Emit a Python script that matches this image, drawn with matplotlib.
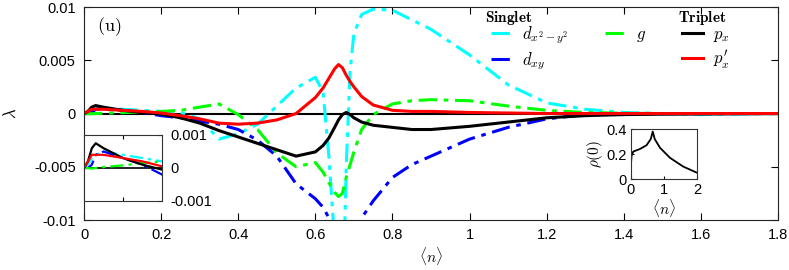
import numpy as np
import matplotlib
matplotlib.use("Agg")
import matplotlib.pyplot as plt
from matplotlib.lines import Line2D

plt.rcParams["font.family"] = ["Liberation Sans", "DejaVu Sans"]
plt.rcParams["mathtext.fontset"] = "cm"

# filling <n>
n = [0, 0.01, 0.02, 0.03, 0.05, 0.1, 0.15, 0.2, 0.25, 0.3, 0.35, 0.4, 0.45, 0.5,
     0.55, 0.6, 0.62, 0.635, 0.65, 0.66, 0.67, 0.68, 0.69, 0.7, 0.72, 0.75, 0.8,
     0.85, 0.9, 1.0, 1.1, 1.2, 1.3, 1.4, 1.5, 1.6, 1.7, 1.8]

d_x2y2 = [0, 0.0001, 0.0003, 0.0004, 0.0005, 0.0004, 0.0003, 0.0002, 0.0001, -0.0005,
          -0.0024, -0.0019, -0.001, 0.0007, 0.0024, 0.0034, 0.002, -0.004, -0.012,
          -0.02, -0.02, -0.005, 0.004, 0.0075, 0.0093, 0.0098, 0.0097, 0.0088, 0.0079,
          0.0055, 0.0027, 0.0010, 0.0004, 0.0001, 0, -0.0001, -0.00005, 0]

d_xy = [0, 0, 0.0001, 0.0004, 0.0005, 0.0003, 0.0001, -0.0002, -0.0004, -0.0007,
        -0.001, -0.0015, -0.0025, -0.004, -0.0066, -0.008, -0.0088, -0.0098, -0.0115,
        -0.013, -0.014, -0.014, -0.0135, -0.0125, -0.0098, -0.0082, -0.006, -0.0048,
        -0.004, -0.0024, -0.0013, -0.0005, -0.0001, 0, 0, 0, 0, 0]

g = [0, 0, -0.00002, 0, 0.00003, 0.00008, 0.00015, 0.0002, 0.0003, 0.0006, 0.0009,
     -0.0001, -0.0015, -0.0037, -0.005, -0.0046, -0.0055, -0.0065, -0.0074, -0.0078,
     -0.0075, -0.006, -0.0048, -0.0036, -0.0015, -0.0001, 0.0009, 0.0012, 0.0013,
     0.0012, 0.0007, 0.0003, 0.0001, 0.00003, 0, 0, 0, 0]

p_x = [0, 0.0002, 0.0006, 0.00075, 0.0006, 0.0003, 0.0001, -0.00005, -0.0004, -0.0009,
       -0.0016, -0.0022, -0.0028, -0.0034, -0.004, -0.0036, -0.003, -0.0023, -0.0013,
       -0.0006, -0.0001, 0.0001, -0.0001, -0.0004, -0.0008, -0.0011, -0.0013, -0.0015,
       -0.0015, -0.0012, -0.0008, -0.0004, -0.0002, -0.0001, -0.00006, -0.00004,
       -0.00002, 0]

p_x2 = [0, 0.0002, 0.0004, 0.0004, 0.0004, 0.0003, 0.0002, 0.00005, -0.0002, -0.0005,
        -0.0009, -0.001, -0.0009, -0.0006, 0, 0.0015, 0.0024, 0.0033, 0.0042, 0.0046,
        0.0043, 0.0036, 0.003, 0.0025, 0.0016, 0.0008, 0.0003, 0.0002, 0.0002, 0.0001,
        0.00005, 0, 0, 0, 0, 0, 0, 0]

# inset: density of states at the Fermi level
n_dos = [0, 0.02, 0.07, 0.27, 0.47, 0.6, 0.66, 0.72, 0.88, 1.18, 1.58, 2.0]
rho0 = [0.12, 0.19, 0.22, 0.24, 0.27, 0.32, 0.38, 0.32, 0.25, 0.17, 0.10, 0.05]

xticks = [0, 0.2, 0.4, 0.6, 0.8, 1, 1.2, 1.4, 1.6, 1.8]
yticks = [-0.01, -0.005, 0, 0.005, 0.01]

dashdot = (0, (6, 2.2, 1.5, 2.2))
styles = [
    (d_x2y2, "#00ffff", dashdot, r"$d_{x^2-y^2}$"),
    (d_xy, "#0000ff", dashdot, r"$d_{xy}$"),
    (g, "#00ff00", dashdot, r"$g$"),
    (p_x, "black", "-", r"$p_x$"),
    (p_x2, "#ff0000", "-", r"$p_x'$"),
]

fig = plt.figure(figsize=(7.89, 2.70), dpi=100)
ax = fig.add_axes([0.1065, 0.185, 0.8796, 0.789])
ax.axhline(0, color="black", lw=1.5)
lines = {}
for ys, c, ls, lab in styles:
    lines[lab], = ax.plot(n, ys, color=c, ls=ls, lw=2.2, label=lab)
ax.set_xlim(0, 1.8)
ax.set_ylim(-0.01, 0.01)
ax.set_xticks(xticks)
ax.set_xticklabels([f"{t:g}" for t in xticks])
ax.set_yticks(yticks)
ax.set_yticklabels([f"{t:g}" for t in yticks])
ax.tick_params(direction="in", top=True, right=True, labelsize=10.5, length=5, pad=6)
ax.set_xlabel(r"$\langle n\rangle$", fontsize=11, labelpad=2)
ax.set_ylabel(r"$\lambda$", fontsize=12, labelpad=11)
for s in ax.spines.values():
    s.set_color("#222222")
ax.text(0.018, 0.96, r"$\mathrm{(u)}$", transform=ax.transAxes, fontsize=13, va="top")

blank = Line2D([], [], alpha=0)
leg = ax.legend([lines[r"$d_{x^2-y^2}$"], lines[r"$d_{xy}$"], lines[r"$g$"], blank,
                 lines[r"$p_x$"], lines[r"$p_x'$"]],
                [r"$d_{x^2-y^2}$", r"$d_{xy}$", r"$g$", "", r"$p_x$", r"$p_x'$"],
                ncol=3, frameon=False, fontsize=12, handlelength=1.25, handletextpad=0.6,
                columnspacing=2.2, labelspacing=0.25,
                loc="upper left", bbox_to_anchor=(0.565, 0.99))
ax.text(0.578, 0.993, r"$\mathbf{Singlet}$", transform=ax.transAxes, fontsize=11, va="top")
ax.text(0.856, 0.993, r"$\mathbf{Triplet}$", transform=ax.transAxes, fontsize=11, va="top")

# zoomed inset near n=0
ax1 = fig.add_axes([0.1065, 0.2556, 0.0989, 0.2444])
ax1.axhline(0, color="black", lw=1.2)
for ys, c, ls, lab in styles:
    ax1.plot(n, ys, color=c, ls=ls, lw=1.6)
ax1.set_xlim(0, 0.2)
ax1.set_ylim(-0.001, 0.001)
ax1.set_xticks([0.1])
ax1.set_xticklabels([])
ax1.set_yticks([-0.001, 0, 0.001])
ax1.set_yticklabels(["-0.001", "0", "0.001"])
ax1.yaxis.tick_right()
ax1.tick_params(direction="in", top=True, left=False, labelsize=10.5, length=3, pad=6)
for s in ax1.spines.values():
    s.set_color("#333333")

# rho(0) inset
ax2 = fig.add_axes([0.7997, 0.337, 0.0837, 0.185])
ax2.plot(n_dos, rho0, color="black", lw=1.3)
ax2.set_xlim(0, 2)
ax2.set_ylim(0, 0.4)
ax2.set_xticks([0, 1, 2])
ax2.set_xticklabels(["0", "1", "2"])
ax2.set_yticks([0, 0.2, 0.4])
ax2.set_yticklabels(["0", "0.2", "0.4"])
ax2.tick_params(direction="in", labelsize=10.5, length=2, pad=3)
ax2.set_xlabel(r"$\langle n\rangle$", fontsize=11, labelpad=0)
ax2.set_ylabel(r"$\rho(0)$", fontsize=11, labelpad=1)
for s in ax2.spines.values():
    s.set_color("#333333")

fig.savefig("out.png", dpi=100)
